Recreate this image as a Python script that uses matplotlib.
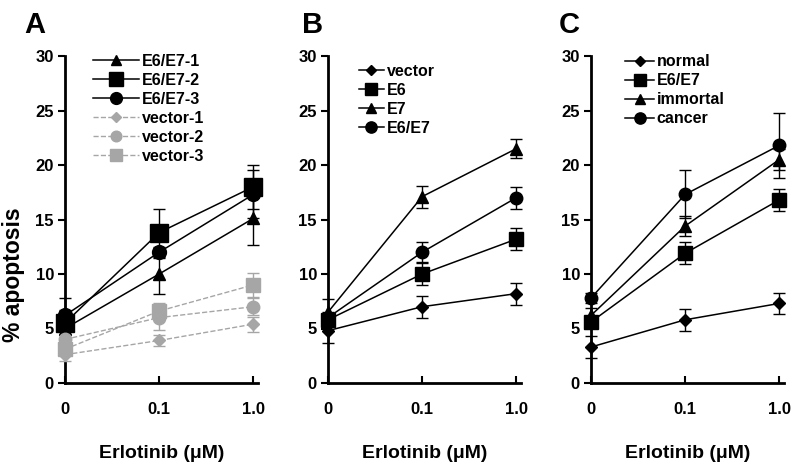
import matplotlib
matplotlib.use("Agg")
import matplotlib.pyplot as plt
from matplotlib.lines import Line2D

plt.rcParams['font.family'] = ['Liberation Sans', 'DejaVu Sans']
plt.rcParams['font.weight'] = 'bold'

doses = ["0", "0.1", "1.0"]

# Panel A
a_labels = ["E6/E7-1", "E6/E7-2", "E6/E7-3", "vector-1", "vector-2", "vector-3"]
a_vals = [[5.0, 10.0, 15.1], [5.5, 13.8, 18.0], [6.2, 12.0, 17.3],
          [2.6, 3.9, 5.4], [4.0, 6.0, 7.0], [3.1, 6.6, 9.0]]
a_errs = [[0.5, 1.8, 2.4], [2.3, 2.2, 2.0], [0.5, 0.5, 2.2],
          [0.6, 0.5, 0.7], [0.5, 1.1, 0.8], [0.5, 0.7, 1.1]]
a_markers = ["^", "s", "o", "D", "o", "s"]
a_gray = [False, False, False, True, True, True]

# Panel B
b_labels = ["vector", "E6", "E7", "E6/E7"]
b_vals = [[4.8, 7.0, 8.2], [5.8, 10.0, 13.2], [6.5, 17.1, 21.5], [6.0, 12.0, 17.0]]
b_errs = [[1.1, 1.0, 1.0], [0.5, 1.0, 1.0], [1.2, 1.0, 0.9], [0.5, 0.9, 1.0]]
b_markers = ["D", "s", "^", "o"]

# Panel C
c_labels = ["normal", "E6/E7", "immortal", "cancer"]
c_vals = [[3.3, 5.8, 7.3], [5.6, 11.9, 16.8], [6.2, 14.4, 20.5], [7.8, 17.3, 21.8]]
c_errs = [[1.0, 1.0, 1.0], [0.5, 1.0, 1.0], [0.7, 0.9, 1.0], [0.5, 2.2, 3.0]]
c_markers = ["D", "s", "^", "o"]

fig = plt.figure(figsize=(8, 4.65), dpi=100)
bottom = 1 - 383 / 465
height = (383 - 56) / 465
lefts = [65 / 800, 328 / 800, 591 / 800]
width = 193 / 800
letters = ["A", "B", "C"]
letter_x = [24 / 800, 302 / 800, 559 / 800]

x = list(range(len(doses)))

def style_axes(ax):
    ax.set_xlim(0, 2.05)
    ax.set_ylim(0, 30)
    ax.set_yticks([0, 5, 10, 15, 20, 25, 30])
    ax.set_xticks(x)
    ax.set_xticklabels(doses)
    for s in ["top", "right"]:
        ax.spines[s].set_visible(False)
    for s in ["left", "bottom"]:
        ax.spines[s].set_linewidth(2)
    ax.tick_params(axis="y", direction="out", length=5, width=1.5, labelsize=12, pad=3)
    ax.tick_params(axis="x", direction="in", length=5, width=1.5, labelsize=12, pad=14)
    for lab in ax.get_xticklabels() + ax.get_yticklabels():
        lab.set_fontweight("bold")
    ax.set_xlabel("Erlotinib (\u03bcM)", fontsize=14, fontweight="bold", labelpad=20)

gray = "#a6a6a6"
sizes = {"^": 8, "s": 10, "o": 9, "D": 6}

panels = [
    (a_labels, a_vals, a_errs, a_markers, a_gray),
    (b_labels, b_vals, b_errs, b_markers, [False] * 4),
    (c_labels, c_vals, c_errs, c_markers, [False] * 4),
]
leg_anchor = [(0.12, 1.022), (0.134, 0.99), (0.15, 1.02)]
leg_hlen = [2.9, 1.6, 1.85]

for i, (labels, vals, errs, markers, grays) in enumerate(panels):
    ax = fig.add_axes([lefts[i], bottom, width, height])
    handles = []
    for lab, v, e, m, g in zip(labels, vals, errs, markers, grays):
        col = gray if g else "black"
        ms = sizes[m]
        if i == 0 and not g and m == "s":
            ms = 12.5
        if i == 0 and not g and m == "o":
            ms = 10
        ls = "--" if g else "-"
        lw = 1 if g else 1.1
        ax.errorbar(x, v, yerr=e, color=col, marker=m, markersize=ms,
                    linestyle=ls, linewidth=lw,
                    elinewidth=1, capsize=4, capthick=1,
                    clip_on=False, zorder=3)
        lm = ms * (0.85 if i == 0 else 0.9)
        handles.append(Line2D([], [], color=col, marker=m, markersize=lm,
                              linestyle=ls, linewidth=lw, label=lab))
    style_axes(ax)
    leg = ax.legend(handles=handles, loc="upper left", bbox_to_anchor=leg_anchor[i],
                    frameon=False, handlelength=leg_hlen[i], fontsize=11.5,
                    labelspacing=0.25, handletextpad=0.15, borderaxespad=0,
                    borderpad=0.3)
    for t in leg.get_texts():
        t.set_fontweight("bold")
    if i == 0:
        ax.set_ylabel("% apoptosis", fontsize=16.5, fontweight="bold")
        ax.yaxis.set_label_coords(-0.205, 0.33)
    fig.text(letter_x[i], 1 - 33 / 465, letters[i], fontsize=21, fontweight="bold",
             ha="left", va="baseline")

fig.savefig("out.png", dpi=100)
